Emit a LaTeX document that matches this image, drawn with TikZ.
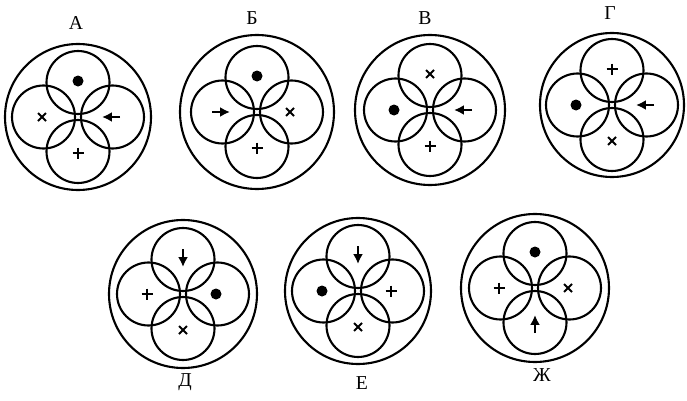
\documentclass[tikz,border=0pt]{standalone}
\usepackage{fontspec}
\setmainfont{Liberation Serif}
\usetikzlibrary{arrows.meta}
\tikzset{
  dotsym/.pic={\fill (0,0) circle (5.5);},
  crosssym/.pic={\draw[line width=1.4pt] (-4,-4) -- (4,4) (-4,4) -- (4,-4);},
  plussym/.pic={\draw[line width=1.4pt] (-5.5,0) -- (5.5,0) (0,-5.5) -- (0,5.5);},
  arrowsym/.pic={\draw[line width=1.9pt, -{Latex[length=7pt,width=7pt]}] (9,0) -- (-9,0);},
  ring/.style={line width=1.5pt},
  letter/.style={font=\fontsize{14}{16}\selectfont}
}
\begin{document}
\begin{tikzpicture}[x=0.025cm, y=-0.025cm]
    \useasboundingbox (0,0) rectangle (687,401);
    % centre x / y, outer radius, top, left, right, bottom marks, then turns
    \foreach \cx/\cy/\R/\t/\l/\r/\b/\rl/\rr/\rt/\rb in {
        78/117/73/dotsym/crosssym/arrowsym/plussym/0/0/0/0,
        257/112/77/dotsym/arrowsym/crosssym/plussym/0/180/0/0,
        430/110/75/crosssym/dotsym/arrowsym/plussym/0/0/0/0,
        612/105/72/plussym/dotsym/arrowsym/crosssym/0/0/0/0,
        183/294/74/arrowsym/plussym/dotsym/crosssym/90/0/0/0,
        358/291/73/arrowsym/dotsym/plussym/crosssym/90/0/0/0,
        535/288/74/dotsym/plussym/crosssym/arrowsym/0/0/0/-90} {
        \begin{scope}[shift={(\cx,\cy)}]
            \draw[ring] (0,0) circle (\R);
            \foreach \dx/\dy in {0/-34.5, -34.5/0, 34.5/0, 0/34.5}
                \draw[ring] (\dx,\dy) circle (31.5);
            \pic[rotate=\rl] at (0,-36) {\t};
            \pic[rotate=\rr] at (-36,0) {\l};
            \pic at (33,0) {\r};
            \pic[rotate=\rb] at (0,36) {\b};
        \end{scope}
    }
    % letters
    \node[letter] (labA) at (76,23) {А};
    \node[letter] (labB) at (252,18) {Б};
    \node[letter] (labV) at (425,18) {В};
    \node[letter] (labG) at (610,13) {Г};
    \node[letter] (labD) at (185,382) {Д};
    \node[letter] (labE) at (362,383) {Е};
    \node[letter] (labZh) at (542,375) {Ж};
\end{tikzpicture}
\end{document}
